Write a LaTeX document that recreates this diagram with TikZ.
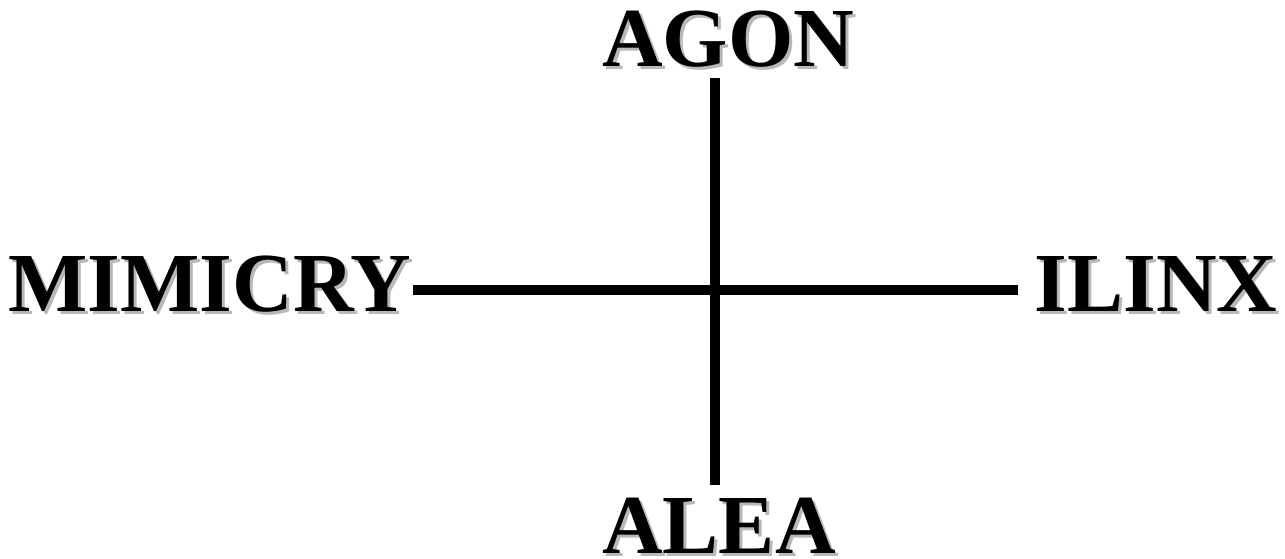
\documentclass[tikz,border=0pt]{standalone}
\usepackage{fontspec}
\setmainfont{Liberation Serif}
\begin{document}
\begin{tikzpicture}[x=1pt,y=-1pt,
  lbl/.style={font=\fontsize{84}{84}\selectfont\bfseries, inner sep=0pt, anchor=base, text=black},
  shd/.style={font=\fontsize{84}{84}\selectfont\bfseries, inner sep=0pt, anchor=base, text=black!28},
  axis/.style={line width=9.5pt, black}]
\useasboundingbox (0,0) rectangle (1285,558);
% shadows
\node[shd] (agonS) at (731,69) {AGON};
\node[shd] (aleaS) at (722,556) {ALEA};
\node[shd] (mimS) at (213,314) {MIMICRY};
\node[shd] (ilinxS) at (1159,314) {ILINX};
% labels
\node[lbl] (agon) at (728,66) {AGON};
\node[lbl] (alea) at (719,553) {ALEA};
\node[lbl] (mim) at (210,311) {MIMICRY};
\node[lbl] (ilinx) at (1156,311) {ILINX};
% axes
\coordinate (top) at (715,78);
\coordinate (bot) at (715,485);
\coordinate (left) at (413,290);
\coordinate (right) at (1018,290);
\draw[axis] (top) -- (bot);
\draw[axis] (left) -- (right);
\end{tikzpicture}
\end{document}
